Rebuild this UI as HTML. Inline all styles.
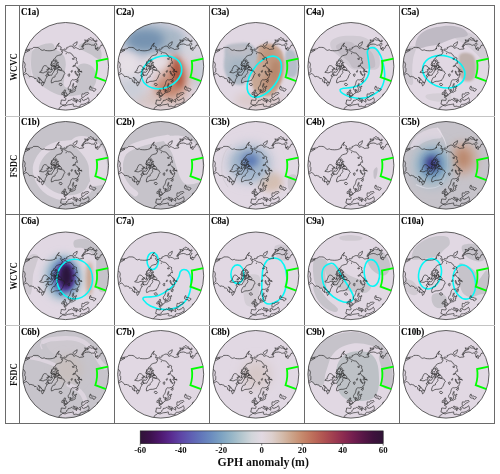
<!DOCTYPE html><html><head><meta charset="utf-8"><style>
html,body{margin:0;padding:0;background:#fff;}
body{width:500px;height:474px;overflow:hidden;position:relative;}
svg{position:absolute;left:0;top:0;}
</style></head><body>
<svg width="500" height="474" viewBox="0 0 500 474">
<defs>
<filter id="b2" x="-50%" y="-50%" width="200%" height="200%"><feGaussianBlur stdDeviation="1.2"/></filter>
<filter id="b3" x="-50%" y="-50%" width="200%" height="200%"><feGaussianBlur stdDeviation="2"/></filter>
<filter id="b4" x="-50%" y="-50%" width="200%" height="200%"><feGaussianBlur stdDeviation="3"/></filter>
<filter id="b5" x="-50%" y="-50%" width="200%" height="200%"><feGaussianBlur stdDeviation="4.5"/></filter>
<filter id="b6" x="-50%" y="-50%" width="200%" height="200%"><feGaussianBlur stdDeviation="6"/></filter>
<clipPath id="cc"><ellipse cx="0" cy="0" rx="43.00" ry="43.80"/></clipPath>
<linearGradient id="cbar" x1="0" x2="1" y1="0" y2="0"><stop offset="0.0000" stop-color="#301437"/><stop offset="0.0417" stop-color="#3d114d"/><stop offset="0.0833" stop-color="#4e186f"/><stop offset="0.1250" stop-color="#592a8f"/><stop offset="0.1667" stop-color="#5e45a6"/><stop offset="0.2083" stop-color="#5f5eb3"/><stop offset="0.2500" stop-color="#6276ba"/><stop offset="0.2917" stop-color="#6b8cbf"/><stop offset="0.3333" stop-color="#7ca2c2"/><stop offset="0.3750" stop-color="#95b5c7"/><stop offset="0.4167" stop-color="#b3c6ce"/><stop offset="0.4583" stop-color="#d1d5da"/><stop offset="0.5000" stop-color="#e2d9e2"/><stop offset="0.5417" stop-color="#ddd0ce"/><stop offset="0.5833" stop-color="#d4bcac"/><stop offset="0.6250" stop-color="#cca389"/><stop offset="0.6667" stop-color="#c6896c"/><stop offset="0.7083" stop-color="#be6f5b"/><stop offset="0.7500" stop-color="#b25652"/><stop offset="0.7917" stop-color="#a24050"/><stop offset="0.8333" stop-color="#8e2c50"/><stop offset="0.8750" stop-color="#741e4f"/><stop offset="0.9167" stop-color="#581647"/><stop offset="0.9583" stop-color="#3f123d"/><stop offset="1.0000" stop-color="#2f1436"/></linearGradient>
<symbol id="coast" overflow="visible"><g fill="none" stroke="#222" stroke-width="0.65" stroke-linejoin="round"><path d="M-51.9,12.9 -52.0,11.0 -52.4,10.1 -52.1,5.7 -51.4,4.9 -50.6,3.3 -50.1,1.5 -49.5,-1.2 -48.5,-3.4 -47.9,-6.4 -46.9,-8.9 -45.4,-11.2 -44.4,-11.8 -43.5,-11.7 -42.4,-12.3 -40.7,-13.6 -39.2,-14.2 -37.5,-15.1 -35.7,-16.2 -36.6,-16.4 -38.5,-15.8 -40.6,-15.6 -41.9,-14.7 -40.4,-16.1 -38.4,-17.0 -37.5,-16.8 -35.9,-17.2 -34.4,-17.4 -33.1,-17.8 -32.2,-18.9 -30.6,-18.9 -29.5,-18.9 -27.7,-18.8 -26.2,-17.9 -24.7,-16.5 -23.2,-15.9 -22.6,-16.2 -21.1,-16.4 -20.3,-15.8 -18.3,-15.6 -16.5,-15.5 -14.7,-15.6 -13.2,-15.8 -11.8,-16.3 -10.6,-16.6 -9.9,-18.2 -9.5,-17.2 -9.5,-18.5 -9.3,-19.5 -8.6,-20.8 -7.3,-22.4 -6.5,-23.4 -6.7,-22.6 -7.8,-21.3 -7.7,-19.9 -6.4,-20.4 -5.6,-19.7 -4.5,-19.3 -4.4,-18.2 -5.3,-17.2 -5.1,-16.5 -3.9,-16.9 -2.8,-16.3 -3.9,-15.5 -4.4,-15.2 -3.6,-14.7 -2.7,-14.4 -3.3,-13.7 -4.0,-12.3 -4.5,-11.5 -5.6,-11.3 -6.9,-11.0 -8.3,-10.5 -9.2,-10.0 -9.8,-9.5 -10.2,-8.4 -10.8,-7.5 -11.8,-7.3 -12.1,-6.0 -13.2,-5.4 -14.1,-4.5 -14.1,-3.3 -14.6,-2.3 -15.1,-1.3 -14.5,-0.6 -13.4,-0.5 -12.4,-0.3 -13.1,0.3 -13.8,0.7 -14.5,1.1 -13.9,2.0 -14.8,2.7 -13.7,3.1 -14.4,3.3 -15.4,3.5 -16.2,2.8 -15.9,2.0 -17.3,1.8 -18.0,0.8 -19.1,-0.2 -20.4,-0.7 -21.3,-0.6 -22.2,-0.0 -22.9,1.6 -23.7,3.2 -23.6,4.4 -25.3,5.0 -26.0,6.1 -24.8,6.2 -23.3,6.5 -21.9,6.5 -20.7,5.7 -19.6,5.6 -18.5,5.2 -18.0,6.5 -18.4,7.5 -18.5,8.3 -19.5,8.7 -19.8,9.7 -18.9,10.4 -18.2,10.2 -19.1,11.3 -19.7,12.4 -20.3,13.4 -20.6,14.9 -21.1,16.3 -21.9,16.0 -23.4,15.3 -24.5,13.6 -25.6,12.4 -26.1,11.6 -26.9,11.4 -27.7,11.0 -27.1,11.6 -25.3,13.8 -26.0,13.7 -26.7,14.4 -26.4,15.7 -26.4,16.4 -25.5,16.3 -26.4,16.4 -27.6,15.4 -28.7,14.6 -28.3,14.2 -28.1,13.5 -28.9,12.9 -29.6,12.2 -30.4,12.1 -30.7,12.6 -31.0,12.4 -31.4,11.7 -32.2,10.6 -33.0,10.7 -33.4,10.4 -33.7,10.4 -34.8,10.0 -35.8,10.7 -36.5,9.8 -37.2,8.9 -38.6,7.4 -39.5,7.2 -40.7,8.0 -41.8,8.7 -42.6,8.5 -42.7,7.9 -42.0,7.1 -41.2,6.4 -40.2,5.7 -40.1,5.1 -40.0,3.5 -40.1,2.1 -40.8,1.4 -40.9,0.6 -40.6,-0.8 -40.4,-1.9 -41.0,-3.5 -41.8,-4.6 -42.7,-4.6 -44.2,-5.3 -45.3,-5.0 -46.6,-4.2 -47.2,-2.8 -47.2,-0.7 -46.7,0.4 -45.7,0.8 -45.4,3.4 -46.6,3.1 -47.5,2.7 -48.4,2.4 -48.7,3.6 -48.5,5.4 -48.9,7.0 -50.1,6.9 -51.2,6.8 -51.8,8.5 -51.4,10.9 -51.6,12.8 -50.8,14.1 -49.7,15.0 -49.1,16.5 -48.2,17.7 -47.8,20.0 -47.2,22.8 -46.1,25.3 -45.4,26.3 -45.7,27.2 -45.6,28.5 -45.7,30.0 -45.3,31.5 -43.9,34.1 -43.0,35.8 -42.8,37.0 -43.0,38.4 -43.7,39.1M-51.9,12.9 -52.5,12.7 -53.4,13.3 -54.5,13.2 -55.5,12.2 -56.5,11.3M-44.2,7.0 -43.8,9.0 -44.0,11.1 -44.3,12.7 -44.5,14.0 -45.2,11.6 -44.6,10.4 -44.7,8.3 -45.0,5.5 -44.2,7.0M-44.3,15.3 -43.7,17.5 -43.9,19.0 -44.8,17.0 -45.6,14.2 -44.3,15.3M-1.9,4.9 -1.5,5.6 -1.3,6.5 -0.5,7.1 -1.3,8.0 -2.0,9.3 -2.5,10.7 -3.1,12.0 -4.0,13.1 -4.4,14.2 -5.2,14.2 -6.6,14.7 -8.1,15.0 -9.8,15.0 -11.2,15.3 -12.5,16.1 -13.9,16.7 -14.1,16.7 -14.3,15.8 -14.4,14.7 -13.8,13.1 -13.1,11.7 -12.4,10.9 -11.1,10.8 -10.5,10.5 -10.5,9.3 -10.0,8.7 -9.5,8.2 -8.8,7.3 -8.1,6.4 -7.9,5.7 -8.4,5.0 -8.0,4.1 -7.4,3.6 -6.6,3.7 -5.8,3.9 -4.9,4.0 -3.9,4.4 -2.7,4.6 -1.9,4.9M-5.7,19.1 -6.3,18.4 -6.4,17.6 -5.9,17.0 -4.4,17.2 -3.6,17.8 -3.4,18.6 -4.0,19.2 -5.0,19.3 -5.7,19.1M-10.8,3.7 -11.6,4.6 -12.0,5.7 -12.4,6.4 -13.0,7.0 -13.6,8.3 -14.0,9.0 -14.9,8.8 -15.6,9.0 -16.6,9.3 -17.2,9.2 -16.7,8.0 -17.3,8.5 -17.6,9.1 -17.7,7.9 -17.5,7.0 -17.0,6.2 -16.9,5.2 -16.1,5.9 -15.2,6.0 -14.5,5.8 -14.3,5.4 -13.5,4.4 -13.0,3.2 -12.5,2.2 -11.7,1.8 -10.8,1.8 -10.8,3.1 -10.8,3.7M-8.7,2.9 -8.4,2.3 -7.8,1.3 -7.1,0.9 -6.0,0.5 -5.3,1.0 -4.5,2.0 -3.9,2.7 -3.9,3.6 -5.0,3.9 -5.9,3.5 -6.8,3.1 -7.5,3.1 -8.3,2.8 -8.7,2.9M-10.1,3.0 -9.4,2.8 -8.8,2.2 -9.0,1.2 -9.6,0.6 -10.1,0.8 -10.2,2.0 -10.1,3.0M-13.9,-1.9 -13.2,-2.0 -12.3,-2.6 -11.1,-2.9 -10.5,-3.6 -10.2,-5.0 -11.2,-5.5 -11.9,-5.6 -12.6,-5.1 -13.3,-4.2 -13.9,-3.0 -13.9,-1.9M-10.6,-5.7 -9.7,-5.2 -8.7,-4.8 -8.5,-5.6 -9.4,-6.4 -10.2,-6.5 -10.6,-5.7M-9.9,-1.9 -9.3,-1.6 -8.4,-2.0 -8.4,-3.0 -8.4,-3.8 -9.2,-3.3 -9.9,-1.9M-12.3,-0.6 -11.3,-0.3 -10.5,-0.5 -11.1,-1.4 -11.9,-1.3 -12.3,-0.6M-18.3,3.0 -17.5,3.9 -16.6,2.5 -17.3,2.0 -18.3,3.0M-9.9,0.0 -9.1,-0.2 -8.3,-0.8 -8.6,-1.4 -9.4,-0.8 -9.9,0.0M-7.8,1.3 -6.7,1.5 -5.7,1.0 -6.0,0.4 -7.1,0.3 -7.8,0.7 -7.8,1.3M-12.1,0.8 -10.8,0.9 -10.6,0.2 -11.7,-0.1 -12.1,0.8M-24.8,16.5 -23.7,16.5 -22.6,16.2 -21.5,16.6 -22.1,18.2 -22.5,18.9 -22.9,19.4 -23.5,19.6 -23.6,19.0 -23.9,17.9 -24.8,16.5M10.4,59.4 10.5,58.3 9.6,57.4 8.6,57.3 6.6,57.7 5.6,57.4 4.1,56.8 2.2,57.0 -0.7,57.5 -1.6,57.8 -3.6,57.4 -6.5,57.4 -7.9,56.9 -9.8,55.7 -10.9,54.9 -11.5,54.2 -11.9,53.6 -12.8,52.7 -13.2,51.9 -14.0,51.2 -13.9,50.5 -14.3,49.8 -13.3,49.3 -12.7,48.6 -12.6,47.4 -12.9,46.5 -12.7,46.1 -11.5,45.2 -10.5,44.6 -10.1,43.9 -9.0,43.4 -8.4,43.2 -7.4,43.0 -6.6,42.6 -6.1,42.0 -6.0,41.3 -5.6,40.8 -4.3,40.3 -3.7,39.9 -3.3,39.3 -3.1,39.0 -1.2,39.5 -0.5,39.6 0.5,39.2 1.8,38.7 3.0,38.4 4.3,38.3 5.3,38.1 6.3,38.0 7.1,37.6 7.9,37.8 7.7,38.4 8.1,38.8 7.5,39.5 7.8,39.9 8.4,40.1 9.3,40.1 10.0,39.9 11.2,39.9 11.7,40.4 13.2,40.5 14.3,40.4 14.7,39.8 14.5,39.3 14.8,38.6 15.5,38.1 16.4,38.0 17.3,38.0 18.1,37.9 19.4,37.4 20.4,37.1 21.0,36.6 21.5,36.1 22.4,35.8 23.2,35.4 23.5,34.9 23.5,34.4 23.4,33.7 23.3,33.0 23.1,32.3 22.6,31.8 22.6,31.4 22.2,31.5 21.8,31.9 21.6,32.4 21.0,32.9 20.1,33.1 19.5,33.3 19.4,33.8 18.7,33.9 18.1,34.2 17.7,34.1 17.3,33.7 16.7,33.7 17.0,33.3 16.6,32.9 16.1,32.7 16.2,32.3 15.8,32.3 14.8,33.0 14.1,33.1 14.1,33.6 14.6,34.0 15.3,34.2 15.1,34.7 15.0,35.1 15.0,35.8 14.3,35.8 13.8,35.1 13.4,34.8 12.8,34.5 12.2,34.1 12.1,33.4 11.7,33.1 11.1,32.9 10.0,32.7 9.2,32.4 8.4,32.1 8.2,31.7 7.8,31.8 7.4,32.1 7.8,32.9 8.4,33.1 9.5,33.9 10.1,34.1 11.4,34.3 11.8,34.5 11.8,34.7 10.9,34.6 10.8,35.3 11.2,35.5 10.8,36.3 10.6,36.4 10.6,35.9 10.4,35.4 9.9,35.0 9.3,34.9 8.4,34.7 7.6,34.2 6.8,33.8 6.4,33.2 5.7,33.1 5.1,33.6 4.3,34.0 3.4,34.0 2.6,34.2 2.7,34.9 2.0,35.5 1.2,36.0 0.6,36.7 0.9,37.3 0.3,38.0 -0.7,38.5 -2.0,38.5 -2.8,38.8 -3.3,38.4 -3.9,37.9 -4.9,37.9 -5.0,36.8 -4.5,35.7 -4.4,34.7 -4.4,33.8 -3.7,33.7 -2.5,33.9 -1.4,34.1 -0.2,34.1 0.1,33.3 0.2,32.2 -0.5,31.5 -1.4,31.1 -1.6,30.6 -0.8,30.4 -0.0,30.6 -0.1,29.8 0.9,30.1 1.5,29.6 1.9,28.9 2.5,28.6 2.9,27.8 3.4,27.2 4.2,27.0 4.6,26.8 4.6,26.2 4.3,25.6 4.3,24.5 5.0,24.0 5.1,24.7 4.9,25.3 5.1,25.8 5.6,26.2 6.3,26.1 6.8,25.9 7.1,26.1 7.9,25.5 8.7,25.0 9.2,25.1 9.7,24.3 9.3,23.5 9.3,22.8 10.0,22.7 10.0,21.8 9.7,21.3 10.3,20.8 11.0,20.5 10.8,19.7 10.0,20.3 9.1,21.0 8.4,20.9 8.2,20.2 7.8,19.2 7.9,18.4 8.4,17.4 7.9,17.0 7.4,17.5 7.3,18.3 7.0,19.1 6.7,20.0 6.9,21.0 7.2,21.3 7.8,21.9 7.3,22.6 7.4,23.5 7.4,24.4 6.9,24.6 6.4,25.2 6.0,24.9 5.5,23.8 5.1,23.1 4.8,22.7 4.5,23.1 3.9,23.8 3.4,23.9 3.0,23.6 2.8,23.1 2.6,22.2 2.6,21.5 2.9,20.8 3.5,20.1 3.9,19.6 4.3,18.8 4.6,18.0 4.9,17.0 5.0,16.3 5.1,15.8 5.4,15.1 5.6,14.5 6.0,14.2 6.4,13.6 6.9,13.4 7.3,13.3 7.8,13.6 8.3,13.5 8.8,13.6 9.4,13.3 10.3,13.2 11.0,13.2 11.6,13.6 11.7,14.2 11.2,14.8 10.2,15.0 10.7,15.6 11.3,16.1 11.9,15.9 12.1,15.4 12.5,15.0 12.2,14.5 12.3,13.7 12.5,13.2 11.8,12.6 11.7,12.0 12.3,11.9 12.8,11.6 13.2,10.5 13.1,9.9 13.7,9.4 13.6,8.9 13.4,8.2 14.1,8.4 14.0,7.4 13.9,6.8 13.3,6.4 12.4,5.6 12.0,5.1 12.5,4.7 13.4,5.0 14.0,5.0 15.5,5.4 16.3,6.0 15.9,4.8 14.9,5.1 13.7,4.6 13.0,4.3 13.2,3.9 13.2,3.5 13.8,3.7 14.3,3.5 13.5,3.0 12.4,3.0 12.4,1.7 11.5,1.6 11.2,1.2 10.7,0.5 10.1,0.0 9.3,-1.2 9.7,-1.8 9.8,-2.5 10.2,-3.2 11.0,-3.3 11.8,-3.0 11.7,-3.7 11.3,-4.0 11.5,-4.9 10.9,-5.7 10.6,-6.4 10.8,-7.1 10.9,-7.7 10.9,-8.3 10.1,-8.5 9.6,-9.1 8.8,-8.8 8.4,-9.3 8.0,-9.9 7.4,-10.7 7.2,-11.3 6.5,-11.5 6.0,-12.1 5.7,-12.8 5.3,-13.1 4.7,-13.2 4.0,-13.5 3.3,-13.3 2.7,-13.6 2.1,-13.8 1.3,-14.3 0.8,-14.4 0.3,-14.8 -0.5,-15.4 -1.2,-15.6 -1.7,-15.9 -2.2,-16.1 -1.9,-16.6 -1.6,-17.0 -1.4,-17.4 -0.6,-17.2 0.2,-16.9 0.8,-17.3 1.4,-17.6 1.1,-18.7 2.0,-19.0 2.9,-19.3 3.7,-19.8 4.3,-20.1 5.4,-20.2 6.3,-20.1 7.0,-19.6 7.1,-20.2 7.7,-21.0 7.6,-21.8 8.0,-22.4 8.5,-22.8 9.5,-23.3 10.4,-23.9 11.6,-24.6 11.5,-23.6 11.2,-22.6 10.9,-21.6 10.0,-20.8 9.8,-20.4 9.0,-20.2 8.3,-19.7 7.9,-19.2 7.7,-18.4 8.0,-18.1 8.8,-18.1 9.7,-18.5 10.2,-18.9 10.7,-18.4 11.5,-18.3 12.0,-17.8 13.0,-17.4 13.8,-16.8 14.5,-16.9 15.4,-17.1 16.9,-17.2 17.8,-17.3 18.1,-17.8 17.2,-18.3 17.2,-19.2 17.6,-20.3 18.5,-20.8 19.5,-21.8 21.0,-22.1 22.9,-22.3 24.8,-21.8 25.5,-21.3 26.5,-21.0 27.3,-21.4 28.7,-20.9 28.9,-21.7 29.2,-22.7 30.1,-23.4 31.0,-22.6 31.5,-22.1 30.9,-21.7 30.3,-21.3 30.0,-20.8 29.9,-19.8 29.4,-19.6 29.7,-19.0 29.9,-17.7 30.7,-17.7 31.2,-17.7 30.8,-17.8 30.1,-17.7 29.9,-17.2 30.5,-16.8 31.2,-16.5 31.8,-16.1 32.4,-15.9 32.5,-16.8 32.6,-17.1 31.9,-17.8 31.5,-18.9 31.9,-19.0 32.5,-18.4 33.5,-17.9 34.1,-18.1 34.4,-19.1 34.7,-20.1 34.9,-20.5 35.2,-20.8 35.8,-20.6 35.7,-21.2 36.3,-21.3 37.0,-21.3 37.9,-21.1 39.0,-21.1 39.8,-20.7 41.0,-19.9 41.8,-19.1 42.4,-18.1 42.9,-17.6 43.5,-16.7 44.0,-15.9 44.7,-15.6 44.5,-15.0 44.3,-14.9 44.8,-13.7 45.6,-12.7 46.3,-12.0 46.9,-12.2 47.4,-13.1 47.8,-14.4 48.0,-15.5 48.8,-16.1 49.7,-16.3 50.6,-15.8 51.1,-14.9 51.7,-14.4 52.6,-13.0 52.0,-12.8 51.8,-12.3 51.5,-10.9 51.1,-10.1 50.8,-8.8 51.0,-8.0 51.6,-8.0 52.7,-7.6 53.3,-8.2 53.9,-8.9 54.5,-9.8 54.7,-11.5 55.4,-12.2 56.0,-12.9 56.5,-13.4 56.7,-12.7 56.5,-10.7 56.2,-9.7 55.2,-9.1 54.5,-8.6 53.9,-6.9 53.1,-7.0 51.7,-6.8 50.5,-5.9 49.8,-5.6 49.7,-4.2 50.2,-3.2 49.3,-2.9 48.2,-2.0 47.5,-1.0 46.9,-0.6 46.5,-0.2 46.3,0.6 46.9,1.2 47.0,2.6 47.0,3.5 47.8,3.9 48.2,5.4 48.9,6.8 49.5,7.8 49.8,9.0 50.1,9.8 51.1,9.8 52.0,10.4 52.7,10.5 53.1,11.3 53.4,12.8 52.8,13.7 51.8,14.0 50.8,14.6 49.7,14.7 48.7,15.2 47.5,15.3 46.4,15.4 45.6,15.1 44.9,15.1 44.5,15.0 44.0,16.8 44.6,17.2 45.0,16.5 43.8,17.8 43.3,17.5 42.6,18.0 41.6,18.6 41.1,18.8 40.5,20.3 39.6,22.3 38.5,24.1 37.7,25.1 37.0,25.0 36.5,25.2 36.1,26.4 35.4,27.1 34.0,27.9 33.2,27.9 32.4,28.0 31.8,28.4 31.7,29.0 31.6,29.4 32.3,29.4 33.2,29.4 34.0,29.2 34.5,29.5 35.0,29.5 35.6,29.2 36.5,28.4 37.0,27.8 37.0,27.0 37.0,26.2 36.9,25.5 37.3,25.8 37.7,25.9 38.9,25.4 39.3,24.8 40.3,24.4 40.8,24.9 40.9,25.8 40.8,26.8 41.0,27.3 41.1,28.3 40.7,29.2 40.1,31.2 40.0,32.0 39.2,33.8 38.4,35.5 37.4,37.0 37.1,38.0 36.2,38.9 35.7,38.8 34.8,38.5 34.2,37.8 33.0,37.7 31.8,37.6 30.0,37.6 29.2,37.1 27.9,36.9 26.7,36.7 25.5,36.5 24.8,36.5 24.5,35.7 24.5,36.6 24.5,37.0 23.8,36.8 23.0,36.3 23.0,36.6 24.5,37.1 25.1,37.7 26.1,37.9 27.0,38.3 28.4,38.5 29.1,39.0 30.6,39.4 31.6,39.7 32.4,40.1 33.7,39.8 34.5,39.8 36.1,39.2 36.4,39.6 37.1,39.3 38.0,38.9 38.9,37.8 39.9,36.2 40.7,35.1 41.2,34.1 41.8,34.7 42.2,35.4 42.4,36.8 42.3,38.6 41.9,40.6 41.2,42.5 40.1,44.7M17.3,31.3 18.3,30.7 18.9,30.0 19.5,29.2 20.1,28.8 20.8,28.6 21.4,28.4 22.3,28.0 22.9,27.4 23.2,26.8 22.7,26.3 21.7,26.3 20.6,26.5 20.0,26.6 19.4,26.6 19.0,26.9 18.9,27.3 18.6,27.9 18.4,28.0 17.9,27.8 17.5,27.7 16.8,27.6 16.4,27.6 16.3,28.3 16.3,28.7 16.1,29.5 16.2,30.2 16.1,30.9 16.5,31.1 17.3,31.3M24.4,20.1 24.0,21.2 23.8,22.4 24.1,23.1 24.7,23.4 25.3,23.7 26.5,23.8 27.3,23.6 27.5,24.7 28.0,25.1 28.8,24.9 29.6,24.3 30.4,23.0 29.7,22.6 28.8,22.3 28.1,22.1 27.6,21.7 26.9,21.8 26.1,21.7 25.3,21.7 25.3,21.0 25.2,19.8 24.4,20.1M-1.9,29.4 -1.0,29.4 -0.2,29.2 0.9,29.1 1.4,28.9 1.5,28.6 1.6,28.3 1.6,27.7 0.9,27.6 0.9,27.2 0.6,26.5 0.1,25.8 -0.3,25.5 -0.3,25.1 0.1,24.4 -0.5,24.3 -0.4,23.6 -1.1,23.6 -1.5,24.3 -1.7,25.0 -1.6,25.7 -1.4,26.1 -0.7,26.3 -0.6,26.7 -0.6,27.3 -1.2,27.3 -1.3,27.6 -1.5,28.2 -1.6,28.4 -0.7,28.6 -1.2,28.7 -1.6,29.2 -1.9,29.4M-3.8,28.2 -4.0,27.8 -3.7,27.0 -3.6,26.3 -2.6,25.8 -1.9,25.9 -1.9,26.7 -2.0,27.2 -2.2,28.0 -2.9,28.1 -3.8,28.2M3.2,10.2 2.8,9.5 2.2,8.5 2.8,8.0 3.2,8.0 3.6,7.5 4.2,7.8 3.9,8.8 4.2,9.5 3.5,10.1 3.2,10.2M12.2,9.1 11.4,9.1 10.6,8.4 9.9,7.4 9.6,6.6 9.3,5.6 9.4,4.7 9.9,4.8 10.1,5.6 10.4,6.6 11.0,7.7 11.8,8.5 12.5,8.6 12.2,9.1M9.3,-0.4 8.3,0.2 7.2,0.3 7.2,-0.1 7.9,-0.9 8.8,-1.0 9.3,-0.4M8.8,-7.4 8.1,-7.0 7.1,-6.9 6.8,-7.7 7.5,-8.0 8.2,-7.9 8.8,-7.4M6.0,6.1 5.5,5.5 5.8,4.6 6.5,4.0 6.9,4.6 6.4,5.5 6.0,6.1M19.8,-23.7 18.9,-22.7 18.1,-21.6 17.4,-20.4 16.3,-19.5 16.0,-19.5 16.6,-20.6 17.4,-22.1 18.5,-23.0 19.0,-24.1 19.8,-23.7M22.5,-25.4 22.2,-24.8 21.6,-24.6 20.6,-24.5 20.0,-24.0 19.8,-25.1 19.1,-26.5 20.1,-26.1 20.8,-26.3 21.4,-25.3 22.5,-25.4M22.1,-25.7 22.1,-26.6 22.6,-27.4 23.5,-27.5 23.9,-28.0 24.5,-28.6 25.2,-28.6 26.0,-28.2 26.9,-27.5 27.9,-27.4 28.0,-26.7 28.3,-26.0 29.2,-25.5 29.9,-24.8 29.3,-24.9 28.1,-25.4 27.2,-26.4 26.4,-26.2 25.8,-26.1 24.8,-26.6 23.7,-26.5 23.1,-25.9 22.5,-25.6 22.1,-25.7M30.0,-24.8 30.9,-24.4 31.3,-25.2 31.5,-25.8 30.9,-26.1 30.2,-25.8 30.0,-24.8M38.4,-22.5 38.9,-23.0 40.3,-23.0 40.1,-22.2 39.1,-22.1 38.4,-22.5M42.1,-24.1 41.6,-25.1 42.9,-25.6 42.8,-27.8 43.7,-26.9 44.1,-25.1 43.7,-24.2 42.1,-24.1M45.0,-15.8 45.1,-16.3 46.1,-15.5 45.9,-14.5 45.0,-15.8M53.0,10.4 54.2,8.8 55.2,9.6 54.7,10.8 53.0,10.4M55.3,-18.1 54.5,-18.9 52.2,-21.8 49.4,-24.0 49.2,-25.7 49.4,-26.4 50.9,-25.9 51.3,-27.3 52.4,-26.3M58.3,-7.8 57.5,-6.1 55.9,-4.2 56.9,-7.0 57.5,-9.7 57.3,-12.8M-14.4,-1.0 -13.7,-1.2 -13.5,-0.7 -14.1,-0.5 -14.4,-1.0M-8.0,-3.9 -7.4,-3.1 -7.2,-3.9 -7.7,-4.4 -8.0,-3.9M-8.0,-0.7 -7.1,-0.7 -7.5,-0.0 -8.0,-0.7M-7.5,-1.1 -7.1,-1.5 -7.6,-1.5 -7.5,-1.1M-10.1,0.3 -9.6,0.3 -9.7,-0.2 -10.1,-0.2 -10.1,0.3M-11.2,3.6 -10.7,3.1 -10.7,3.8 -11.2,3.6M-18.6,3.4 -18.2,3.9 -18.3,4.3 -18.7,3.8 -18.6,3.4M0.8,-12.8 0.7,-12.5 0.2,-12.6 0.4,-12.8 0.8,-12.8"/></g></symbol>
</defs>

<g transform="translate(65.60,66.30)">
<g clip-path="url(#cc)"><rect x="-46" y="-46" width="92" height="92" fill="#e1d8e3"/>
<path d="M-41.93,-7.79 C-41.42,-11.00 -39.84,-13.53 -38.49,-14.88 C-37.14,-16.23 -34.40,-18.09 -33.83,-15.89 C-33.25,-13.70 -34.98,-6.11 -35.04,-1.72 C-35.11,2.67 -33.66,8.07 -34.23,10.43 C-34.81,12.80 -37.27,13.47 -38.49,12.46 C-39.70,11.45 -40.95,7.73 -41.52,4.36 C-42.10,0.98 -42.44,-4.59 -41.93,-7.79Z" fill="#d6d0d8"/><path d="M-33.83,-13.87 C-33.15,-16.91 -31.63,-16.84 -30.38,-17.92 C-29.14,-19.00 -28.02,-19.57 -26.33,-20.35 C-24.65,-21.13 -22.28,-22.14 -20.26,-22.58 C-18.23,-23.02 -15.63,-23.25 -14.18,-22.98 C-12.73,-22.71 -12.22,-21.97 -11.55,-20.96 C-10.87,-19.95 -11.04,-17.92 -10.13,-16.91 C-9.22,-15.89 -7.33,-15.73 -6.08,-14.88 C-4.83,-14.04 -3.55,-13.03 -2.64,-11.84 C-1.73,-10.66 -1.09,-9.48 -0.61,-7.79 C-0.14,-6.11 0.20,-3.74 0.20,-1.72 C0.20,0.31 -0.34,2.00 -0.61,4.36 C-0.88,6.72 -1.22,10.10 -1.42,12.46 C-1.63,14.82 -2.23,17.02 -1.83,18.54 C-1.42,20.05 -0.31,21.07 1.01,21.57 C2.32,22.08 4.55,21.91 6.07,21.57 C7.59,21.24 9.21,20.73 10.12,19.55 C11.03,18.37 11.37,16.68 11.54,14.48 C11.71,12.29 11.13,8.58 11.13,6.38 C11.13,4.19 11.03,2.67 11.54,1.32 C12.05,-0.03 12.89,-1.04 14.17,-1.72 C15.45,-2.39 17.55,-2.80 19.24,-2.73 C20.92,-2.66 22.78,-2.16 24.30,-1.31 C25.82,-0.47 27.30,0.71 28.35,2.33 C29.40,3.95 30.24,6.21 30.58,8.41 C30.91,10.60 30.91,13.30 30.37,15.50 C29.83,17.69 28.69,19.89 27.34,21.57 C25.99,23.26 24.30,24.51 22.27,25.62 C20.25,26.74 17.72,27.58 15.18,28.26 C12.65,28.93 9.78,29.44 7.08,29.67 C4.38,29.91 1.51,29.91 -1.02,29.67 C-3.55,29.44 -5.74,29.03 -8.11,28.26 C-10.47,27.48 -12.83,26.30 -15.19,25.02 C-17.56,23.73 -20.09,22.15 -22.28,20.56 C-24.48,18.97 -26.67,17.35 -28.36,15.50 C-30.05,13.64 -31.40,11.95 -32.41,9.42 C-33.42,6.89 -34.20,4.19 -34.44,0.31 C-34.67,-3.57 -34.50,-10.83 -33.83,-13.87Z" fill="#c6c3ca"/><path d="M13.16,-20.96 C14.00,-22.04 17.04,-23.73 19.24,-24.40 C21.43,-25.08 24.13,-25.58 26.32,-25.01 C28.52,-24.44 30.81,-22.81 32.40,-20.96 C33.99,-19.10 35.40,-16.23 35.84,-13.87 C36.28,-11.51 35.78,-7.79 35.03,-6.78 C34.29,-5.77 33.01,-6.95 31.39,-7.79 C29.77,-8.64 27.34,-10.66 25.31,-11.84 C23.29,-13.03 21.09,-13.87 19.24,-14.88 C17.38,-15.89 15.18,-16.91 14.17,-17.92 C13.16,-18.93 12.32,-19.88 13.16,-20.96Z" fill="#c6c3ca"/>
<use href="#coast"/>
</g>
<ellipse cx="0" cy="0" rx="43.00" ry="43.80" fill="none" stroke="#3a3a3a" stroke-width="0.8"/>
<path d="M42.6,-7.6 L31.1,-5.3 Q32.4,2.9 29.7,10.9 L40.4,14.9" fill="none" stroke="#00ff00" stroke-width="1.8" stroke-linejoin="miter"/>
</g>
<g transform="translate(160.70,66.30)">
<g clip-path="url(#cc)"><rect x="-46" y="-46" width="92" height="92" fill="#e1d8e3"/>
<ellipse cx="-1.12" cy="32.71" rx="30.38" ry="9.11" fill="#d6c3c0" filter="url(#b6)"/><ellipse cx="-28.46" cy="19.55" rx="14.18" ry="15.19" fill="#c9ced8" filter="url(#b6)"/><ellipse cx="37.36" cy="5.37" rx="7.70" ry="17.22" fill="#c6cdd7" filter="url(#b5)"/><ellipse cx="-7.19" cy="-25.62" rx="33.42" ry="17.82" fill="#a3b5c6" transform="rotate(5.0 -7.19 -25.62)" filter="url(#b6)"/><ellipse cx="10.02" cy="-22.98" rx="14.18" ry="9.72" fill="#a9b7c6" filter="url(#b5)"/><ellipse cx="28.25" cy="-18.93" rx="9.11" ry="9.11" fill="#d4d5dd" filter="url(#b5)"/><ellipse cx="-15.29" cy="-26.43" rx="19.24" ry="10.53" fill="#7693b1" filter="url(#b5)"/><ellipse cx="13.06" cy="11.45" rx="15.19" ry="20.25" fill="#cd9c89" filter="url(#b6)"/><ellipse cx="6.98" cy="21.57" rx="13.16" ry="8.10" fill="#c38169" filter="url(#b5)"/><ellipse cx="16.71" cy="5.98" rx="6.08" ry="15.80" fill="#ad563f" transform="rotate(-10.0 16.71 5.98)" filter="url(#b4)"/><ellipse cx="-4.16" cy="-3.34" rx="14.18" ry="8.51" fill="#e6dee2" transform="rotate(-15.0 -4.16 -3.34)" filter="url(#b5)"/><ellipse cx="-33.52" cy="-0.71" rx="11.14" ry="12.15" fill="#e6e0e6" filter="url(#b5)"/><ellipse cx="0.91" cy="5.98" rx="20.66" ry="15.80" fill="none" stroke="#08f6f6" stroke-width="1.6" transform="rotate(-20.0 0.91 5.98)"/>
<use href="#coast"/>
</g>
<ellipse cx="0" cy="0" rx="43.00" ry="43.80" fill="none" stroke="#3a3a3a" stroke-width="0.8"/>
<path d="M42.6,-7.6 L31.1,-5.3 Q32.4,2.9 29.7,10.9 L40.4,14.9" fill="none" stroke="#00ff00" stroke-width="1.8" stroke-linejoin="miter"/>
</g>
<g transform="translate(255.80,66.30)">
<g clip-path="url(#cc)"><rect x="-46" y="-46" width="92" height="92" fill="#e1d8e3"/>
<ellipse cx="2.83" cy="33.73" rx="24.30" ry="9.11" fill="#dccacb" filter="url(#b5)"/><path d="M-29.57,-19.95 C-27.61,-21.87 -23.16,-21.87 -19.45,-22.38 C-15.73,-22.88 -10.67,-24.06 -7.29,-22.98 C-3.92,-21.90 -0.95,-18.60 0.81,-15.89 C2.56,-13.19 3.51,-10.22 3.24,-6.78 C2.97,-3.34 0.94,1.49 -0.81,4.76 C-2.57,8.04 -5.03,10.57 -7.29,12.86 C-9.56,15.16 -11.34,18.20 -14.38,18.54 C-17.42,18.87 -22.65,17.59 -25.52,14.89 C-28.39,12.19 -30.65,6.62 -31.60,2.33 C-32.54,-1.95 -31.53,-7.12 -31.19,-10.83 C-30.85,-14.54 -31.53,-18.02 -29.57,-19.95Z" fill="#b4bcc7" filter="url(#b2)"/><ellipse cx="-17.42" cy="-15.89" rx="12.15" ry="6.08" fill="#bdbdc6" filter="url(#b3)"/><ellipse cx="-17.42" cy="3.35" rx="10.13" ry="11.14" fill="#a6b5c3" filter="url(#b4)"/><path d="M30.17,-14.88 C31.46,-17.25 35.41,-17.08 37.26,-15.89 C39.12,-14.71 40.57,-11.17 41.31,-7.79 C42.06,-4.42 42.23,1.25 41.72,4.36 C41.21,7.46 40.03,10.00 38.28,10.84 C36.52,11.68 32.64,11.51 31.19,9.42 C29.74,7.33 29.74,2.33 29.57,-1.72 C29.40,-5.77 28.89,-12.52 30.17,-14.88Z" fill="#b6bdc9" filter="url(#b2)"/><path d="M2.83,-19.95 C4.99,-21.77 11.27,-22.98 14.98,-22.38 C18.70,-21.77 22.88,-19.41 25.11,-16.30 C27.34,-13.19 28.15,-8.54 28.35,-3.74 C28.55,1.05 27.81,7.46 26.33,12.46 C24.84,17.46 22.28,23.33 19.44,26.23 C16.61,29.13 12.69,30.08 9.31,29.88 C5.94,29.67 1.48,27.85 -0.81,25.02 C-3.11,22.18 -4.53,16.98 -4.46,12.86 C-4.39,8.75 -1.49,4.36 -0.41,0.31 C0.67,-3.74 1.48,-8.06 2.02,-11.44 C2.56,-14.81 0.67,-18.12 2.83,-19.95Z" fill="#c7a794" filter="url(#b2)"/><ellipse cx="12.96" cy="-11.84" rx="8.10" ry="8.10" fill="#bf957c" filter="url(#b4)"/><ellipse cx="19.04" cy="5.37" rx="6.48" ry="14.18" fill="#b6866b" transform="rotate(10.0 19.04 5.37)" filter="url(#b4)"/><ellipse cx="12.55" cy="16.92" rx="6.08" ry="7.09" fill="#bb8d74" filter="url(#b4)"/><ellipse cx="8.50" cy="10.43" rx="23.29" ry="13.16" fill="none" stroke="#08f6f6" stroke-width="1.6" transform="rotate(-55.0 8.50 10.43)"/>
<use href="#coast"/>
</g>
<ellipse cx="0" cy="0" rx="43.00" ry="43.80" fill="none" stroke="#3a3a3a" stroke-width="0.8"/>
<path d="M42.6,-7.6 L31.1,-5.3 Q32.4,2.9 29.7,10.9 L40.4,14.9" fill="none" stroke="#00ff00" stroke-width="1.8" stroke-linejoin="miter"/>
</g>
<g transform="translate(350.90,66.30)">
<g clip-path="url(#cc)"><rect x="-46" y="-46" width="92" height="92" fill="#e1d8e3"/>
<path d="M-20.56,-24.00 C-19.71,-26.19 -16.68,-27.98 -13.47,-29.06 C-10.26,-30.14 -5.71,-30.48 -1.32,-30.48 C3.07,-30.48 8.81,-30.48 12.86,-29.06 C16.91,-27.64 20.45,-24.84 22.99,-21.97 C25.52,-19.10 27.10,-15.39 28.05,-11.84 C28.99,-8.30 29.33,-3.24 28.66,-0.71 C27.98,1.83 26.63,2.84 24.00,3.35 C21.37,3.85 16.40,2.33 12.86,2.33 C9.32,2.33 5.60,4.02 2.73,3.35 C-0.14,2.67 -1.99,0.48 -4.36,-1.72 C-6.72,-3.91 -9.08,-7.46 -11.44,-9.82 C-13.81,-12.18 -17.01,-13.53 -18.53,-15.89 C-20.05,-18.26 -21.40,-21.80 -20.56,-24.00Z" fill="#d0cad3"/><path d="M-14.48,-20.96 C-13.47,-22.38 -9.93,-23.89 -7.39,-24.40 C-4.86,-24.91 -1.66,-24.91 0.71,-24.00 C3.07,-23.08 4.76,-19.95 6.78,-18.93 C8.81,-17.92 10.83,-18.43 12.86,-17.92 C14.88,-17.41 17.25,-17.25 18.94,-15.89 C20.62,-14.54 22.14,-12.52 22.99,-9.82 C23.83,-7.12 25.01,-1.72 24.00,0.31 C22.99,2.33 19.44,2.00 16.91,2.33 C14.38,2.67 11.34,2.50 8.81,2.33 C6.28,2.16 3.58,2.50 1.72,1.32 C-0.14,0.14 -0.47,-2.73 -2.33,-4.76 C-4.19,-6.78 -7.56,-8.98 -9.42,-10.83 C-11.28,-12.69 -12.63,-14.21 -13.47,-15.89 C-14.31,-17.58 -15.49,-19.54 -14.48,-20.96Z" fill="#c3bdc6"/><path d="M18.94,-18.33 C20.35,-18.76 23.15,-18.93 25.01,-17.52 C26.87,-16.10 28.72,-12.96 30.07,-9.82 C31.42,-6.68 32.54,-2.39 33.11,1.32 C33.69,5.03 34.13,8.85 33.52,12.46 C32.91,16.07 31.73,20.12 29.47,22.99 C27.21,25.86 23.22,28.16 19.95,29.67 C16.67,31.19 13.20,31.94 9.82,32.11 C6.45,32.27 2.73,31.53 -0.31,30.69 C-3.34,29.84 -6.65,28.22 -8.41,27.04 C-10.16,25.86 -11.01,24.44 -10.84,23.60 C-10.67,22.75 -9.49,22.42 -7.39,21.98 C-5.30,21.54 -1.32,21.71 1.72,20.97 C4.76,20.22 8.37,19.21 10.83,17.52 C13.30,15.84 15.22,13.37 16.51,10.84 C17.79,8.31 18.40,5.44 18.53,2.33 C18.67,-0.77 17.65,-4.92 17.32,-7.79 C16.98,-10.66 16.24,-13.13 16.51,-14.88 C16.78,-16.64 17.52,-17.89 18.94,-18.33Z" fill="none" stroke="#08f6f6" stroke-width="1.6"/>
<use href="#coast"/>
</g>
<ellipse cx="0" cy="0" rx="43.00" ry="43.80" fill="none" stroke="#3a3a3a" stroke-width="0.8"/>
<path d="M42.6,-7.6 L31.1,-5.3 Q32.4,2.9 29.7,10.9 L40.4,14.9" fill="none" stroke="#00ff00" stroke-width="1.8" stroke-linejoin="miter"/>
</g>
<g transform="translate(446.00,66.30)">
<g clip-path="url(#cc)"><rect x="-46" y="-46" width="92" height="92" fill="#e1d8e3"/>
<path d="M-42.33,-7.79 C-42.16,-12.86 -41.32,-15.89 -39.90,-17.92 C-38.48,-19.95 -35.51,-19.78 -33.82,-19.95 C-32.14,-20.11 -29.94,-20.96 -29.77,-18.93 C-29.60,-16.91 -32.14,-11.68 -32.81,-7.79 C-33.49,-3.91 -33.82,0.31 -33.82,4.36 C-33.82,8.41 -32.47,14.15 -32.81,16.51 C-33.15,18.87 -34.50,19.21 -35.85,18.54 C-37.20,17.86 -39.83,16.85 -40.91,12.46 C-41.99,8.07 -42.50,-2.73 -42.33,-7.79Z" fill="#cfc9d2"/><path d="M8.71,-29.06 C9.05,-31.08 17.15,-34.29 20.86,-34.12 C24.57,-33.95 28.12,-30.75 30.99,-28.05 C33.86,-25.35 36.39,-21.30 38.08,-17.92 C39.76,-14.54 41.28,-9.82 41.11,-7.79 C40.95,-5.77 39.09,-4.76 37.06,-5.77 C35.04,-6.78 32.00,-11.17 28.96,-13.87 C25.92,-16.57 22.21,-19.44 18.84,-21.97 C15.46,-24.50 8.37,-27.03 8.71,-29.06Z" fill="#d3cdd6"/><path d="M-29.77,-17.92 C-31.63,-19.27 -30.11,-25.18 -28.76,-28.05 C-27.41,-30.92 -24.88,-33.28 -21.67,-35.14 C-18.46,-36.99 -13.91,-38.27 -9.52,-39.19 C-5.13,-40.10 0.27,-40.84 4.66,-40.60 C9.05,-40.37 13.94,-39.19 16.81,-37.77 C19.68,-36.35 21.54,-33.45 21.87,-32.10 C22.21,-30.75 20.69,-30.24 18.84,-29.67 C16.98,-29.09 13.43,-29.26 10.73,-28.65 C8.03,-28.05 5.67,-27.14 2.63,-26.02 C-0.41,-24.91 -4.12,-22.98 -7.49,-21.97 C-10.87,-20.96 -13.91,-20.62 -17.62,-19.95 C-21.33,-19.27 -27.92,-16.57 -29.77,-17.92Z" fill="#bfbac4"/><path d="M-19.65,28.66 C-17.79,27.72 -11.54,27.11 -7.49,27.04 C-3.44,26.97 2.97,26.97 4.66,28.26 C6.35,29.54 5.00,33.59 2.63,34.74 C0.27,35.89 -5.97,35.48 -9.52,35.14 C-13.06,34.81 -16.95,33.79 -18.63,32.71 C-20.32,31.63 -21.50,29.61 -19.65,28.66Z" fill="#d4ced6"/><path d="M13.77,-11.84 C15.12,-13.46 18.50,-13.80 20.86,-13.46 C23.22,-13.13 26.43,-12.11 27.95,-9.82 C29.47,-7.52 29.81,-3.07 29.97,0.31 C30.14,3.68 29.97,8.00 28.96,10.43 C27.95,12.86 25.99,14.38 23.90,14.89 C21.81,15.40 18.19,15.06 16.41,13.47 C14.62,11.89 13.77,8.24 13.16,5.37 C12.56,2.50 12.66,-0.87 12.76,-3.74 C12.86,-6.61 12.42,-10.22 13.77,-11.84Z" fill="#bfb1ad" filter="url(#b2)"/><ellipse cx="-2.23" cy="5.37" rx="21.47" ry="15.80" fill="none" stroke="#08f6f6" stroke-width="1.6" transform="rotate(15.0 -2.23 5.37)"/>
<use href="#coast"/>
</g>
<ellipse cx="0" cy="0" rx="43.00" ry="43.80" fill="none" stroke="#3a3a3a" stroke-width="0.8"/>
<path d="M42.6,-7.6 L31.1,-5.3 Q32.4,2.9 29.7,10.9 L40.4,14.9" fill="none" stroke="#00ff00" stroke-width="1.8" stroke-linejoin="miter"/>
</g>
<g transform="translate(65.60,165.30)">
<g clip-path="url(#cc)"><rect x="-46" y="-46" width="92" height="92" fill="#e1d8e3"/>
<rect x="-46" y="-46" width="92" height="92" fill="#c6c3ca"/><path d="M11.13,-22.78 C9.45,-22.61 4.38,-22.17 1.01,-21.77 C-2.37,-21.36 -6.08,-21.19 -9.12,-20.35 C-12.16,-19.51 -14.79,-18.29 -17.22,-16.71 C-19.65,-15.12 -21.91,-12.92 -23.70,-10.83 C-25.49,-8.74 -26.94,-6.34 -27.95,-4.15 C-28.97,-1.95 -29.61,-0.03 -29.78,2.33 C-29.95,4.70 -29.57,7.60 -28.97,10.03 C-28.36,12.46 -27.48,14.65 -26.13,16.92 C-24.78,19.18 -23.09,21.57 -20.87,23.60 C-18.64,25.62 -15.74,27.62 -12.76,29.07 C-9.79,30.52 -6.35,31.70 -3.04,32.31 C0.26,32.92 3.88,33.05 7.08,32.71 C10.29,32.38 13.67,31.46 16.20,30.28 C18.73,29.10 20.59,27.58 22.27,25.62 C23.96,23.67 25.65,19.72 26.32,18.54" fill="none" stroke="#e0d8e2" stroke-width="6.08" stroke-linecap="round"/><path d="M11.13,-28.65 C14.51,-29.67 19.57,-29.16 23.29,-28.05 C27.00,-26.93 30.71,-24.67 33.41,-21.97 C36.11,-19.27 38.14,-15.89 39.49,-11.84 C40.84,-7.79 41.35,-2.39 41.51,2.33 C41.68,7.06 41.85,13.54 40.50,16.51 C39.15,19.48 35.78,19.65 33.41,20.16 C31.05,20.66 27.94,21.17 26.32,19.55 C24.70,17.93 24.26,13.64 23.69,10.43 C23.12,7.23 23.62,3.35 22.88,0.31 C22.14,-2.73 20.86,-5.26 19.24,-7.79 C17.62,-10.33 15.18,-12.86 13.16,-14.88 C11.13,-16.91 8.77,-18.76 7.08,-19.95 C5.40,-21.13 2.36,-20.52 3.03,-21.97 C3.71,-23.42 7.76,-27.64 11.13,-28.65Z" fill="#e0d8e2"/>
<use href="#coast"/>
</g>
<ellipse cx="0" cy="0" rx="43.00" ry="43.80" fill="none" stroke="#3a3a3a" stroke-width="0.8"/>
<path d="M42.6,-7.6 L31.1,-5.3 Q32.4,2.9 29.7,10.9 L40.4,14.9" fill="none" stroke="#00ff00" stroke-width="1.8" stroke-linejoin="miter"/>
</g>
<g transform="translate(160.70,165.30)">
<g clip-path="url(#cc)"><rect x="-46" y="-46" width="92" height="92" fill="#e1d8e3"/>
<rect x="-46" y="-46" width="92" height="92" fill="#c6c3ca"/><path d="M-25.42,28.26 C-26.70,27.14 -30.96,24.04 -33.12,21.57 C-35.28,19.11 -37.17,16.34 -38.38,13.47 C-39.60,10.60 -40.14,7.40 -40.41,4.36 C-40.68,1.32 -40.65,-1.89 -40.00,-4.76 C-39.36,-7.62 -38.48,-10.60 -36.56,-12.86 C-34.64,-15.12 -31.67,-16.74 -28.46,-18.33 C-25.25,-19.91 -21.20,-21.16 -17.32,-22.38 C-13.44,-23.59 -9.22,-24.74 -5.17,-25.62 C-1.12,-26.49 4.96,-27.30 6.98,-27.64" fill="none" stroke="#e0d8e2" stroke-width="5.67" stroke-linecap="round"/><path d="M2.93,-28.05 C5.46,-29.16 14.41,-30.17 19.14,-29.67 C23.86,-29.16 28.08,-27.30 31.29,-25.01 C34.49,-22.71 36.69,-19.44 38.38,-15.89 C40.06,-12.35 40.91,-8.47 41.41,-3.74 C41.92,0.98 42.09,8.92 41.41,12.46 C40.74,16.00 40.06,16.44 37.36,17.52 C34.66,18.60 28.25,19.95 25.21,18.94 C22.17,17.93 20.82,14.72 19.14,11.45 C17.45,8.17 16.44,3.35 15.08,-0.71 C13.73,-4.76 12.89,-9.14 11.03,-12.86 C9.18,-16.57 5.30,-20.45 3.95,-22.98 C2.60,-25.52 0.40,-26.93 2.93,-28.05Z" fill="#e0d8e2"/>
<use href="#coast"/>
</g>
<ellipse cx="0" cy="0" rx="43.00" ry="43.80" fill="none" stroke="#3a3a3a" stroke-width="0.8"/>
<path d="M42.6,-7.6 L31.1,-5.3 Q32.4,2.9 29.7,10.9 L40.4,14.9" fill="none" stroke="#00ff00" stroke-width="1.8" stroke-linejoin="miter"/>
</g>
<g transform="translate(255.80,165.30)">
<g clip-path="url(#cc)"><rect x="-46" y="-46" width="92" height="92" fill="#e1d8e3"/>
<path d="M32.81,10.84 C34.02,8.65 38.28,8.48 39.69,9.42 C41.11,10.37 41.89,13.81 41.31,16.51 C40.74,19.21 37.74,24.61 36.25,25.62 C34.77,26.64 32.98,25.05 32.40,22.59 C31.83,20.12 31.59,13.03 32.81,10.84Z" fill="#cdc7cf"/><ellipse cx="14.98" cy="16.51" rx="12.15" ry="10.13" fill="#d5bfb2" filter="url(#b4)"/><ellipse cx="-6.28" cy="-2.12" rx="22.28" ry="19.24" fill="#b2c1d0" filter="url(#b6)"/><ellipse cx="-6.28" cy="-2.73" rx="14.58" ry="12.56" fill="#8ea6c6" filter="url(#b5)"/><ellipse cx="-6.28" cy="0.31" rx="15.19" ry="14.18" fill="#a4b7cc" filter="url(#b5)"/><ellipse cx="-5.67" cy="-4.76" rx="8.51" ry="7.29" fill="#5f7db6" filter="url(#b4)"/><path d="M-24.51,-20.96 C-25.62,-19.51 -29.61,-15.79 -31.19,-12.25 C-32.78,-8.71 -33.76,-3.81 -34.03,0.31 C-34.30,4.43 -33.83,8.92 -32.81,12.46 C-31.80,16.00 -28.76,20.05 -27.95,21.57" fill="none" stroke="#d0cad2" stroke-width="0.81" stroke-linecap="round"/>
<use href="#coast"/>
</g>
<ellipse cx="0" cy="0" rx="43.00" ry="43.80" fill="none" stroke="#3a3a3a" stroke-width="0.8"/>
<path d="M42.6,-7.6 L31.1,-5.3 Q32.4,2.9 29.7,10.9 L40.4,14.9" fill="none" stroke="#00ff00" stroke-width="1.8" stroke-linejoin="miter"/>
</g>
<g transform="translate(350.90,165.30)">
<g clip-path="url(#cc)"><rect x="-46" y="-46" width="92" height="92" fill="#e1d8e3"/>
<path d="M22.99,4.76 C23.46,3.68 24.81,2.16 25.42,1.93 C26.02,1.69 26.50,2.27 26.63,3.35 C26.77,4.43 26.56,6.72 26.23,8.41 C25.89,10.10 25.15,12.80 24.61,13.47 C24.07,14.15 23.32,13.30 22.99,12.46 C22.65,11.62 22.58,9.69 22.58,8.41 C22.58,7.13 22.51,5.84 22.99,4.76Z" fill="#c4bfc8"/>
<use href="#coast"/>
</g>
<ellipse cx="0" cy="0" rx="43.00" ry="43.80" fill="none" stroke="#3a3a3a" stroke-width="0.8"/>
<path d="M42.6,-7.6 L31.1,-5.3 Q32.4,2.9 29.7,10.9 L40.4,14.9" fill="none" stroke="#00ff00" stroke-width="1.8" stroke-linejoin="miter"/>
</g>
<g transform="translate(446.00,165.30)">
<g clip-path="url(#cc)"><rect x="-46" y="-46" width="92" height="92" fill="#e1d8e3"/>
<rect x="-46" y="-46" width="92" height="92" fill="#c6c3ca"/><path d="M-35.85,-17.92 C-35.51,-20.11 -32.47,-26.19 -29.77,-29.06 C-27.07,-31.93 -23.36,-33.79 -19.65,-35.14 C-15.93,-36.49 -10.03,-38.34 -7.49,-37.16 C-4.96,-35.98 -3.44,-29.90 -4.46,-28.05 C-5.47,-26.19 -10.36,-27.03 -13.57,-26.02 C-16.78,-25.01 -20.66,-23.66 -23.70,-21.97 C-26.73,-20.28 -29.77,-16.57 -31.80,-15.89 C-33.82,-15.22 -36.19,-15.73 -35.85,-17.92Z" fill="#dcd4de"/><path d="M-8.51,-37.16 C-7.26,-34.97 -2.70,-28.89 -1.01,-24.00 C0.68,-19.10 1.42,-13.19 1.62,-7.79 C1.82,-2.39 1.38,3.85 0.20,8.41 C-0.98,12.97 -2.50,17.12 -5.47,19.55 C-8.44,21.98 -13.57,22.99 -17.62,22.99 C-21.67,22.99 -27.75,20.12 -29.77,19.55" fill="none" stroke="#e6e0e8" stroke-width="1.01" stroke-linecap="round"/><ellipse cx="16.81" cy="-6.78" rx="14.58" ry="16.61" fill="#c7a596" filter="url(#b5)"/><ellipse cx="16.81" cy="-6.78" rx="7.29" ry="8.51" fill="#bc8a70" filter="url(#b4)"/><ellipse cx="-13.16" cy="-0.10" rx="19.24" ry="21.27" fill="#9fbac9" filter="url(#b6)"/><ellipse cx="-13.57" cy="-0.71" rx="12.15" ry="13.77" fill="#6590b8" filter="url(#b5)"/><ellipse cx="-14.18" cy="-1.72" rx="6.08" ry="7.29" fill="#3e3888" filter="url(#b4)"/>
<use href="#coast"/>
</g>
<ellipse cx="0" cy="0" rx="43.00" ry="43.80" fill="none" stroke="#3a3a3a" stroke-width="0.8"/>
<path d="M42.6,-7.6 L31.1,-5.3 Q32.4,2.9 29.7,10.9 L40.4,14.9" fill="none" stroke="#00ff00" stroke-width="1.8" stroke-linejoin="miter"/>
</g>
<g transform="translate(65.60,275.80)">
<g clip-path="url(#cc)"><rect x="-46" y="-46" width="92" height="92" fill="#e1d8e3"/>
<path d="M-41.93,-3.24 C-41.76,-7.97 -40.92,-12.36 -39.50,-15.39 C-38.08,-18.43 -35.45,-20.80 -33.42,-21.47 C-31.40,-22.15 -28.02,-21.13 -27.35,-19.45 C-26.67,-17.76 -28.53,-14.38 -29.37,-11.34 C-30.22,-8.31 -31.74,-4.93 -32.41,-1.22 C-33.09,2.50 -32.92,7.56 -33.42,10.93 C-33.93,14.31 -34.27,18.70 -35.45,19.04 C-36.63,19.37 -39.43,16.67 -40.51,12.96 C-41.59,9.25 -42.10,1.48 -41.93,-3.24Z" fill="#cfc9d1"/><path d="M9.11,-35.65 C11.13,-37.00 17.55,-37.67 21.26,-36.66 C24.97,-35.65 28.35,-32.44 31.39,-29.57 C34.43,-26.70 37.80,-23.16 39.49,-19.45 C41.18,-15.73 42.53,-8.98 41.51,-7.29 C40.50,-5.61 35.78,-6.96 33.41,-9.32 C31.05,-11.68 30.04,-18.43 27.34,-21.47 C24.64,-24.51 20.25,-26.37 17.21,-27.55 C14.17,-28.73 10.46,-27.21 9.11,-28.56 C7.76,-29.91 7.08,-34.30 9.11,-35.65Z" fill="#c6c3ca"/><path d="M31.39,-17.42 C32.91,-21.81 39.83,-18.43 41.51,-13.37 C43.20,-8.31 43.03,8.57 41.51,12.96 C39.99,17.35 34.09,18.02 32.40,12.96 C30.71,7.90 29.87,-13.03 31.39,-17.42Z" fill="#c6c3ca"/><ellipse cx="18.83" cy="2.83" rx="6.48" ry="17.22" fill="#e4dbe0" filter="url(#b4)"/><ellipse cx="23.69" cy="2.83" rx="3.24" ry="16.61" fill="#c7a18b" filter="url(#b3)"/><ellipse cx="-2.64" cy="1.82" rx="18.63" ry="22.68" fill="#a3bfcc" filter="url(#b5)"/><ellipse cx="-1.83" cy="1.42" rx="14.18" ry="18.63" fill="#6890c0" filter="url(#b4)"/><ellipse cx="-0.61" cy="0.81" rx="10.13" ry="14.58" fill="#55399a" filter="url(#b3)"/><ellipse cx="0.60" cy="0.40" rx="6.08" ry="11.14" fill="#2c123c" filter="url(#b3)"/><ellipse cx="9.11" cy="3.24" rx="17.82" ry="19.85" fill="none" stroke="#08f6f6" stroke-width="1.6"/>
<use href="#coast"/>
</g>
<ellipse cx="0" cy="0" rx="43.00" ry="43.80" fill="none" stroke="#3a3a3a" stroke-width="0.8"/>
<path d="M42.6,-7.6 L31.1,-5.3 Q32.4,2.9 29.7,10.9 L40.4,14.9" fill="none" stroke="#00ff00" stroke-width="1.8" stroke-linejoin="miter"/>
</g>
<g transform="translate(160.70,275.80)">
<g clip-path="url(#cc)"><rect x="-46" y="-46" width="92" height="92" fill="#e1d8e3"/>
<ellipse cx="-8.00" cy="-14.79" rx="5.67" ry="8.51" fill="none" stroke="#08f6f6" stroke-width="1.6"/><path d="M23.19,-6.28 C24.50,-6.28 26.49,-5.77 27.64,-4.26 C28.79,-2.74 29.70,-0.04 30.07,2.83 C30.44,5.70 30.61,9.42 29.87,12.96 C29.13,16.50 27.91,20.99 25.62,24.10 C23.32,27.20 20.05,30.01 16.10,31.59 C12.15,33.18 6.31,33.85 1.92,33.62 C-2.47,33.38 -7.02,31.76 -10.23,30.17 C-13.44,28.59 -16.31,25.55 -17.32,24.10 C-18.33,22.65 -17.49,21.97 -16.31,21.47 C-15.13,20.96 -12.59,21.36 -10.23,21.06 C-7.87,20.76 -5.00,20.72 -2.13,19.64 C0.74,18.56 4.28,16.54 6.98,14.58 C9.68,12.62 12.22,10.19 14.07,7.90 C15.93,5.60 17.18,2.83 18.12,0.81 C19.07,-1.22 18.90,-3.07 19.74,-4.26 C20.59,-5.44 21.87,-6.28 23.19,-6.28Z" fill="none" stroke="#08f6f6" stroke-width="1.6"/>
<use href="#coast"/>
</g>
<ellipse cx="0" cy="0" rx="43.00" ry="43.80" fill="none" stroke="#3a3a3a" stroke-width="0.8"/>
<path d="M42.6,-7.6 L31.1,-5.3 Q32.4,2.9 29.7,10.9 L40.4,14.9" fill="none" stroke="#00ff00" stroke-width="1.8" stroke-linejoin="miter"/>
</g>
<g transform="translate(255.80,275.80)">
<g clip-path="url(#cc)"><rect x="-46" y="-46" width="92" height="92" fill="#e1d8e3"/>
<path d="M-11.34,0.81 C-8.81,-2.06 0.30,-2.23 2.83,-0.21 C5.36,1.82 4.18,8.06 3.85,12.96 C3.51,17.85 3.00,26.46 0.81,29.16 C-1.39,31.86 -7.12,31.19 -9.32,29.16 C-11.51,27.14 -12.02,21.74 -12.36,17.01 C-12.69,12.28 -13.88,3.68 -11.34,0.81Z" fill="#d3cdd5"/><path d="M19.04,-29.57 C20.39,-31.77 27.64,-31.60 30.17,-30.58 C32.71,-29.57 34.06,-26.03 34.23,-23.50 C34.39,-20.96 33.21,-16.41 31.19,-15.39 C29.16,-14.38 24.10,-15.06 22.07,-17.42 C20.05,-19.78 17.69,-27.38 19.04,-29.57Z" fill="#d0cad3"/><ellipse cx="-18.43" cy="-1.62" rx="6.48" ry="9.32" fill="none" stroke="#08f6f6" stroke-width="1.6"/><path d="M7.29,-7.29 C8.17,-11.01 9.55,-13.64 11.34,-15.39 C13.13,-17.15 15.66,-17.93 18.02,-17.83 C20.39,-17.72 23.49,-16.88 25.52,-14.79 C27.54,-12.69 29.33,-9.22 30.17,-5.27 C31.02,-1.32 31.25,4.52 30.58,8.91 C29.90,13.30 28.39,17.96 26.12,21.06 C23.86,24.17 19.81,26.60 17.01,27.54 C14.21,28.49 11.07,28.15 9.31,26.73 C7.56,25.31 7.02,22.34 6.48,19.04 C5.94,15.73 5.94,11.27 6.07,6.88 C6.21,2.50 6.41,-3.58 7.29,-7.29Z" fill="none" stroke="#08f6f6" stroke-width="1.6"/>
<use href="#coast"/>
</g>
<ellipse cx="0" cy="0" rx="43.00" ry="43.80" fill="none" stroke="#3a3a3a" stroke-width="0.8"/>
<path d="M42.6,-7.6 L31.1,-5.3 Q32.4,2.9 29.7,10.9 L40.4,14.9" fill="none" stroke="#00ff00" stroke-width="1.8" stroke-linejoin="miter"/>
</g>
<g transform="translate(350.90,275.80)">
<g clip-path="url(#cc)"><rect x="-46" y="-46" width="92" height="92" fill="#e1d8e3"/>
<path d="M-25.62,-10.33 C-24.27,-12.69 -17.52,-11.01 -13.47,-9.32 C-9.42,-7.63 -5.71,-2.64 -1.32,-0.21 C3.07,2.23 9.32,3.41 12.86,5.26 C16.40,7.12 19.61,8.98 19.95,10.93 C20.29,12.89 17.75,16.17 14.88,17.01 C12.02,17.85 6.61,16.50 2.73,16.00 C-1.15,15.49 -4.36,15.83 -8.41,13.97 C-12.46,12.12 -18.70,8.91 -21.57,4.86 C-24.44,0.81 -26.97,-7.97 -25.62,-10.33Z" fill="#cac6cd"/><path d="M-36.76,-15.39 C-35.24,-17.76 -30.85,-17.76 -28.66,-17.42 C-26.47,-17.08 -24.10,-15.73 -23.60,-13.37 C-23.09,-11.01 -25.45,-7.29 -25.62,-3.24 C-25.79,0.81 -24.10,8.23 -24.61,10.93 C-25.12,13.63 -26.87,13.30 -28.66,12.96 C-30.45,12.62 -33.82,11.61 -35.34,8.91 C-36.86,6.21 -37.54,0.81 -37.77,-3.24 C-38.01,-7.29 -38.28,-13.03 -36.76,-15.39Z" fill="#c6c3ca"/><path d="M-37.77,10.93 C-37.44,9.25 -34.06,10.93 -31.70,12.96 C-29.33,14.98 -26.63,19.88 -23.60,23.09 C-20.56,26.29 -14.82,30.01 -13.47,32.20 C-12.12,34.39 -13.47,36.25 -15.49,36.25 C-17.52,36.25 -22.58,34.39 -25.62,32.20 C-28.66,30.01 -31.70,26.63 -33.72,23.09 C-35.75,19.54 -38.11,12.62 -37.77,10.93Z" fill="#c6c3ca"/><path d="M-11.44,-38.69 C-10.43,-39.60 -5.03,-40.71 -1.32,-40.71 C2.40,-40.71 9.15,-39.53 10.83,-38.69 C12.52,-37.84 11.85,-36.22 8.81,-35.65 C5.77,-35.07 -4.02,-34.74 -7.39,-35.24 C-10.77,-35.75 -12.46,-37.77 -11.44,-38.69Z" fill="#cfc9d1"/><path d="M16.91,-23.50 C18.94,-25.52 25.69,-26.53 29.06,-25.52 C32.44,-24.51 35.48,-20.46 37.16,-17.42 C38.85,-14.38 39.86,-10.16 39.19,-7.29 C38.51,-4.42 35.81,-0.71 33.11,-0.21 C30.41,0.30 25.69,-2.06 22.99,-4.26 C20.29,-6.45 17.92,-10.16 16.91,-13.37 C15.90,-16.58 14.88,-21.47 16.91,-23.50Z" fill="#c6c3ca"/><path d="M-20.56,-12.36 C-18.53,-12.86 -17.35,-12.36 -15.49,-10.33 C-13.64,-8.31 -11.61,-3.75 -9.42,-0.21 C-7.22,3.34 -4.29,7.56 -2.33,10.93 C-0.37,14.31 1.82,17.69 2.33,20.05 C2.83,22.41 2.33,24.10 0.71,25.11 C-0.91,26.12 -4.36,26.80 -7.39,26.12 C-10.43,25.45 -14.55,23.25 -17.52,21.06 C-20.49,18.87 -23.36,16.00 -25.22,12.96 C-27.07,9.92 -28.25,6.21 -28.66,2.83 C-29.06,-0.54 -29.00,-4.76 -27.65,-7.29 C-26.30,-9.83 -22.58,-11.85 -20.56,-12.36Z" fill="none" stroke="#08f6f6" stroke-width="1.6"/><ellipse cx="20.96" cy="-2.84" rx="7.70" ry="13.37" fill="none" stroke="#08f6f6" stroke-width="1.6" transform="rotate(-5.0 20.96 -2.84)"/>
<use href="#coast"/>
</g>
<ellipse cx="0" cy="0" rx="43.00" ry="43.80" fill="none" stroke="#3a3a3a" stroke-width="0.8"/>
<path d="M42.6,-7.6 L31.1,-5.3 Q32.4,2.9 29.7,10.9 L40.4,14.9" fill="none" stroke="#00ff00" stroke-width="1.8" stroke-linejoin="miter"/>
</g>
<g transform="translate(446.00,275.80)">
<g clip-path="url(#cc)"><rect x="-46" y="-46" width="92" height="92" fill="#e1d8e3"/>
<path d="M-34.23,-17.42 C-34.73,-19.45 -33.22,-25.35 -30.78,-28.56 C-28.35,-31.77 -23.53,-34.80 -19.65,-36.66 C-15.76,-38.52 -11.04,-39.36 -7.49,-39.70 C-3.95,-40.04 -0.24,-40.04 1.62,-38.69 C3.48,-37.34 4.32,-33.79 3.65,-31.60 C2.97,-29.40 -0.41,-27.55 -2.43,-25.52 C-4.46,-23.50 -5.64,-20.80 -8.51,-19.45 C-11.38,-18.10 -16.44,-17.93 -19.65,-17.42 C-22.85,-16.91 -25.32,-16.41 -27.75,-16.41 C-30.18,-16.41 -33.72,-15.39 -34.23,-17.42Z" fill="#c8c5cc"/><path d="M16.81,-30.58 C18.84,-31.94 25.59,-32.44 28.96,-31.60 C32.34,-30.75 35.38,-27.88 37.06,-25.52 C38.75,-23.16 39.76,-19.28 39.09,-17.42 C38.41,-15.56 35.71,-14.38 33.01,-14.38 C30.31,-14.38 25.59,-15.90 22.89,-17.42 C20.19,-18.94 17.82,-21.30 16.81,-23.50 C15.80,-25.69 14.78,-29.23 16.81,-30.58Z" fill="#c6c3ca"/><path d="M12.76,-11.34 C14.11,-15.06 20.02,-10.67 22.89,-9.32 C25.76,-7.97 28.46,-5.61 29.97,-3.24 C31.49,-0.88 30.14,5.20 32.00,4.86 C33.86,4.52 39.59,-6.96 41.11,-5.27 C42.63,-3.58 42.46,10.93 41.11,14.98 C39.76,19.04 36.05,18.02 33.01,19.04 C29.97,20.05 25.92,22.07 22.89,21.06 C19.85,20.05 16.47,18.36 14.78,12.96 C13.10,7.56 11.41,-7.63 12.76,-11.34Z" fill="#c6c3ca"/><path d="M-13.57,19.04 C-12.22,17.35 -7.83,16.50 -5.47,17.01 C-3.11,17.52 -0.24,19.88 0.61,22.07 C1.45,24.27 1.11,28.49 -0.41,30.17 C-1.92,31.86 -6.31,32.71 -8.51,32.20 C-10.70,31.69 -12.73,29.33 -13.57,27.14 C-14.41,24.94 -14.92,20.72 -13.57,19.04Z" fill="#c6c3ca"/><path d="M-41.92,4.86 C-41.25,2.83 -36.19,3.51 -33.82,4.86 C-31.46,6.21 -28.42,10.60 -27.75,12.96 C-27.07,15.32 -28.08,18.36 -29.77,19.04 C-31.46,19.71 -35.85,19.37 -37.87,17.01 C-39.90,14.65 -42.60,6.88 -41.92,4.86Z" fill="#d0cad2"/><ellipse cx="-16.00" cy="-2.03" rx="11.14" ry="15.39" fill="none" stroke="#08f6f6" stroke-width="1.6" transform="rotate(15.0 -16.00 -2.03)"/><ellipse cx="18.23" cy="6.28" rx="11.14" ry="17.22" fill="none" stroke="#08f6f6" stroke-width="1.6" transform="rotate(-10.0 18.23 6.28)"/>
<use href="#coast"/>
</g>
<ellipse cx="0" cy="0" rx="43.00" ry="43.80" fill="none" stroke="#3a3a3a" stroke-width="0.8"/>
<path d="M42.6,-7.6 L31.1,-5.3 Q32.4,2.9 29.7,10.9 L40.4,14.9" fill="none" stroke="#00ff00" stroke-width="1.8" stroke-linejoin="miter"/>
</g>
<g transform="translate(65.60,374.30)">
<g clip-path="url(#cc)"><rect x="-46" y="-46" width="92" height="92" fill="#e1d8e3"/>
<rect x="-46" y="-46" width="92" height="92" fill="#c7c4cb"/><path d="M-19.25,-30.07 C-18.57,-32.37 -11.48,-33.11 -7.09,-33.72 C-2.71,-34.33 3.03,-34.39 7.08,-33.72 C11.13,-33.04 14.85,-31.62 17.21,-29.67 C19.57,-27.71 21.94,-23.93 21.26,-21.97 C20.59,-20.01 16.54,-18.60 13.16,-17.92 C9.78,-17.25 5.06,-17.58 1.01,-17.92 C-3.04,-18.26 -7.77,-17.92 -11.14,-19.95 C-14.52,-21.97 -19.92,-27.78 -19.25,-30.07Z" fill="#cdc8cf"/><ellipse cx="3.03" cy="-4.76" rx="14.18" ry="14.58" fill="#c8bfbe" filter="url(#b5)"/><path d="M-41.12,-17.52 C-39.50,-17.25 -34.87,-16.64 -31.40,-15.89 C-27.92,-15.15 -23.57,-14.07 -20.26,-13.06 C-16.95,-12.05 -13.00,-10.36 -11.55,-9.82" fill="none" stroke="#dcd4de" stroke-width="3.44" stroke-linecap="round"/><path d="M-22.28,-32.50 C-21.10,-32.91 -18.74,-34.33 -15.19,-34.93 C-11.65,-35.54 -5.14,-36.05 -1.02,-36.15 C3.10,-36.25 6.41,-36.15 9.51,-35.54 C12.62,-34.93 15.25,-33.82 17.62,-32.50 C19.98,-31.19 21.67,-29.73 23.69,-27.64 C25.72,-25.55 27.98,-22.51 29.77,-19.95 C31.56,-17.38 32.81,-14.44 34.43,-12.25 C36.05,-10.06 38.64,-7.69 39.49,-6.78" fill="none" stroke="#dcd4de" stroke-width="4.46" stroke-linecap="round"/><path d="M-23.70,-32.10 C-23.90,-31.59 -24.92,-30.14 -24.92,-29.06 C-24.92,-27.98 -23.90,-26.19 -23.70,-25.62" fill="none" stroke="#dcd4de" stroke-width="1.22" stroke-linecap="round"/><path d="M3.03,10.43 C4.38,11.11 8.77,12.80 11.13,14.48 C13.50,16.17 15.79,18.20 17.21,20.56 C18.63,22.92 19.91,26.23 19.64,28.66 C19.37,31.09 17.68,33.46 15.59,35.14 C13.50,36.83 10.02,37.84 7.08,38.79 C4.15,39.73 -0.51,40.48 -2.03,40.81" fill="none" stroke="#dcd4de" stroke-width="4.46" stroke-linecap="round"/>
<use href="#coast"/>
</g>
<ellipse cx="0" cy="0" rx="43.00" ry="43.80" fill="none" stroke="#3a3a3a" stroke-width="0.8"/>
<path d="M42.6,-7.6 L31.1,-5.3 Q32.4,2.9 29.7,10.9 L40.4,14.9" fill="none" stroke="#00ff00" stroke-width="1.8" stroke-linejoin="miter"/>
</g>
<g transform="translate(160.70,374.30)">
<g clip-path="url(#cc)"><rect x="-46" y="-46" width="92" height="92" fill="#e1d8e3"/>

<use href="#coast"/>
</g>
<ellipse cx="0" cy="0" rx="43.00" ry="43.80" fill="none" stroke="#3a3a3a" stroke-width="0.8"/>
<path d="M42.6,-7.6 L31.1,-5.3 Q32.4,2.9 29.7,10.9 L40.4,14.9" fill="none" stroke="#00ff00" stroke-width="1.8" stroke-linejoin="miter"/>
</g>
<g transform="translate(255.80,374.30)">
<g clip-path="url(#cc)"><rect x="-46" y="-46" width="92" height="92" fill="#e1d8e3"/>
<ellipse cx="0.81" cy="0.31" rx="14.18" ry="14.18" fill="#d6c8c7" filter="url(#b6)"/>
<use href="#coast"/>
</g>
<ellipse cx="0" cy="0" rx="43.00" ry="43.80" fill="none" stroke="#3a3a3a" stroke-width="0.8"/>
<path d="M42.6,-7.6 L31.1,-5.3 Q32.4,2.9 29.7,10.9 L40.4,14.9" fill="none" stroke="#00ff00" stroke-width="1.8" stroke-linejoin="miter"/>
</g>
<g transform="translate(350.90,374.30)">
<g clip-path="url(#cc)"><rect x="-46" y="-46" width="92" height="92" fill="#e1d8e3"/>
<path d="M-42.84,2.33 C-43.85,-1.72 -43.01,-8.98 -41.82,-13.87 C-40.64,-18.76 -38.62,-23.39 -35.75,-27.03 C-32.88,-30.68 -28.66,-33.48 -24.61,-35.74 C-20.56,-38.00 -16.00,-39.52 -11.44,-40.60 C-6.89,-41.68 -1.99,-42.46 2.73,-42.22 C7.46,-41.99 12.69,-40.87 16.91,-39.19 C21.13,-37.50 25.18,-34.63 28.05,-32.10 C30.92,-29.57 34.63,-24.84 34.13,-24.00 C33.62,-23.15 28.56,-25.95 25.01,-27.03 C21.47,-28.11 16.91,-29.90 12.86,-30.48 C8.81,-31.05 4.76,-31.22 0.71,-30.48 C-3.34,-29.73 -8.07,-28.11 -11.44,-26.02 C-14.82,-23.93 -17.69,-20.62 -19.55,-17.92 C-21.40,-15.22 -21.57,-12.86 -22.58,-9.82 C-23.60,-6.78 -24.78,-3.07 -25.62,0.31 C-26.47,3.68 -25.96,8.75 -27.65,10.43 C-29.33,12.12 -33.22,11.78 -35.75,10.43 C-38.28,9.08 -41.82,6.38 -42.84,2.33Z" fill="#c6c3ca"/><path d="M34.13,-24.00 C35.98,-23.32 37.94,-17.58 39.19,-13.87 C40.44,-10.16 41.35,-6.11 41.62,-1.72 C41.89,2.67 42.40,10.10 40.81,12.46 C39.22,14.82 33.89,15.84 32.10,12.46 C30.31,9.08 30.75,-2.73 30.07,-7.79 C29.40,-12.86 27.37,-15.22 28.05,-17.92 C28.72,-20.62 32.27,-24.67 34.13,-24.00Z" fill="#c6c3ca"/><path d="M-13.47,-9.82 C-11.95,-14.21 -8.74,-17.75 -5.37,-19.95 C-1.99,-22.14 2.73,-22.81 6.78,-22.98 C10.83,-23.15 15.73,-22.81 18.94,-20.96 C22.14,-19.10 24.51,-15.73 26.02,-11.84 C27.54,-7.96 27.88,-2.39 28.05,2.33 C28.22,7.06 28.22,12.80 27.04,16.51 C25.86,20.22 24.00,22.92 20.96,24.61 C17.92,26.30 12.86,26.47 8.81,26.64 C4.76,26.81 0.03,26.97 -3.34,25.62 C-6.72,24.27 -9.59,21.74 -11.44,18.54 C-13.30,15.33 -14.14,11.11 -14.48,6.38 C-14.82,1.66 -14.99,-5.43 -13.47,-9.82Z" fill="#bdc1c6"/>
<use href="#coast"/>
</g>
<ellipse cx="0" cy="0" rx="43.00" ry="43.80" fill="none" stroke="#3a3a3a" stroke-width="0.8"/>
<path d="M42.6,-7.6 L31.1,-5.3 Q32.4,2.9 29.7,10.9 L40.4,14.9" fill="none" stroke="#00ff00" stroke-width="1.8" stroke-linejoin="miter"/>
</g>
<g transform="translate(446.00,374.30)">
<g clip-path="url(#cc)"><rect x="-46" y="-46" width="92" height="92" fill="#e1d8e3"/>

<use href="#coast"/>
</g>
<ellipse cx="0" cy="0" rx="43.00" ry="43.80" fill="none" stroke="#3a3a3a" stroke-width="0.8"/>
<path d="M42.6,-7.6 L31.1,-5.3 Q32.4,2.9 29.7,10.9 L40.4,14.9" fill="none" stroke="#00ff00" stroke-width="1.8" stroke-linejoin="miter"/>
</g>
<g shape-rendering="crispEdges">
<rect x="5.5" y="5.5" width="489" height="418" fill="none" stroke="#6a6a6a" stroke-width="1"/>
<line x1="19.5" y1="5" x2="19.5" y2="424" stroke="#6a6a6a" stroke-width="1"/>
<line x1="114.5" y1="5" x2="114.5" y2="424" stroke="#6a6a6a" stroke-width="1"/>
<line x1="209.5" y1="5" x2="209.5" y2="424" stroke="#6a6a6a" stroke-width="1"/>
<line x1="304.5" y1="5" x2="304.5" y2="424" stroke="#6a6a6a" stroke-width="1"/>
<line x1="399.5" y1="5" x2="399.5" y2="424" stroke="#6a6a6a" stroke-width="1"/>
<line x1="5" y1="116.5" x2="495" y2="116.5" stroke="#c4c4c4" stroke-width="1"/>
<line x1="5" y1="214.5" x2="495" y2="214.5" stroke="#6a6a6a" stroke-width="1"/>
<line x1="5" y1="325.5" x2="495" y2="325.5" stroke="#c4c4c4" stroke-width="1"/>
</g>
<g font-family="Liberation Serif, serif" font-weight="bold" font-size="9.6" fill="#000" stroke="#000" stroke-width="0.12" opacity="0.999">
<text transform="translate(20.9,14.9) scale(0.93,1)">C1a)</text>
<text transform="translate(115.9,14.9) scale(0.93,1)">C2a)</text>
<text transform="translate(210.9,14.9) scale(0.93,1)">C3a)</text>
<text transform="translate(305.9,14.9) scale(0.93,1)">C4a)</text>
<text transform="translate(400.9,14.9) scale(0.93,1)">C5a)</text>
<text transform="translate(20.9,125.0) scale(0.93,1)">C1b)</text>
<text transform="translate(115.9,125.0) scale(0.93,1)">C2b)</text>
<text transform="translate(210.9,125.0) scale(0.93,1)">C3b)</text>
<text transform="translate(305.9,125.0) scale(0.93,1)">C4b)</text>
<text transform="translate(400.9,125.0) scale(0.93,1)">C5b)</text>
<text transform="translate(20.9,223.9) scale(0.93,1)">C6a)</text>
<text transform="translate(115.9,223.9) scale(0.93,1)">C7a)</text>
<text transform="translate(210.9,223.9) scale(0.93,1)">C8a)</text>
<text transform="translate(305.9,223.9) scale(0.93,1)">C9a)</text>
<text transform="translate(400.9,223.9) scale(0.93,1)">C10a)</text>
<text transform="translate(20.9,334.6) scale(0.93,1)">C6b)</text>
<text transform="translate(115.9,334.6) scale(0.93,1)">C7b)</text>
<text transform="translate(210.9,334.6) scale(0.93,1)">C8b)</text>
<text transform="translate(305.9,334.6) scale(0.93,1)">C9b)</text>
<text transform="translate(400.9,334.6) scale(0.93,1)">C10b)</text>
</g>
<g font-family="Liberation Serif, serif" font-weight="bold" font-size="9.6" fill="#111" text-anchor="middle" opacity="0.999">
<text transform="translate(16.9,67.0) rotate(-90) scale(0.91,1)">WCVC</text>
<text transform="translate(16.9,166.0) rotate(-90) scale(0.91,1)">FSDC</text>
<text transform="translate(16.9,276.0) rotate(-90) scale(0.91,1)">WCVC</text>
<text transform="translate(16.9,374.5) rotate(-90) scale(0.91,1)">FSDC</text>
</g>
<rect x="140.2" y="430.9" width="243" height="12.8" fill="url(#cbar)" stroke="#222" stroke-width="0.6"/>
<g stroke="#222" stroke-width="0.6">
<line x1="140.20" y1="443.7" x2="140.20" y2="445.6"/>
<line x1="180.70" y1="443.7" x2="180.70" y2="445.6"/>
<line x1="221.20" y1="443.7" x2="221.20" y2="445.6"/>
<line x1="261.70" y1="443.7" x2="261.70" y2="445.6"/>
<line x1="302.20" y1="443.7" x2="302.20" y2="445.6"/>
<line x1="342.70" y1="443.7" x2="342.70" y2="445.6"/>
<line x1="383.20" y1="443.7" x2="383.20" y2="445.6"/>
</g>
<g font-family="Liberation Serif, serif" font-weight="bold" font-size="8.8" fill="#111" text-anchor="middle" opacity="0.999">
<text x="140.20" y="453.4">-60</text>
<text x="180.70" y="453.4">-40</text>
<text x="221.20" y="453.4">-20</text>
<text x="261.70" y="453.4">0</text>
<text x="302.20" y="453.4">20</text>
<text x="342.70" y="453.4">40</text>
<text x="383.20" y="453.4">60</text>
</g>
<text x="217.6" y="466" font-family="Liberation Serif, serif" font-weight="bold" font-size="11.8" fill="#111" opacity="0.999">GPH anomaly</text>
<text x="291.2" y="466" font-family="Liberation Serif, serif" font-weight="bold" font-size="11.8" fill="#111" opacity="0.999">(m)</text>
</svg></body></html>
